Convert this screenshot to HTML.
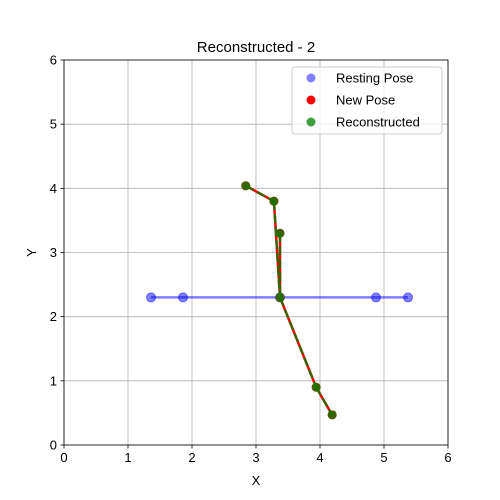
<!DOCTYPE html>
<html><head><meta charset="utf-8"><style>body{margin:0;background:#fff}svg{display:block;font-family:"Liberation Sans",sans-serif}</style></head>
<body>
<svg id="c" width="500" height="500"></svg>
<script>
const restX=[1.36,1.86,3.375,4.875,5.375];
const restY=[2.3,2.3,2.3,2.3,2.3];
const newX=[2.84,3.28,3.375,3.375,3.94,4.19];
const newY=[4.04,3.80,3.30,2.30,0.90,0.47];
const segs=[[0,1],[1,3],[2,3],[3,4],[4,5]];
const ticks=[0,1,2,3,4,5,6];
const NS="http://www.w3.org/2000/svg";
const svg=document.getElementById('c');
const L=64,R=448,T=60,B=445;
const sx=v=>L+v/6*(R-L), sy=v=>B-v/6*(B-T);
function el(t,a,p){const e=document.createElementNS(NS,t);for(const k in a)e.setAttribute(k,a[k]);(p||svg).appendChild(e);return e;}
const bg=el('rect',{x:L,y:T,width:R-L,height:B-T,fill:'#fff'});


ticks.forEach(t=>{
 const g1=el('line',{x1:sx(t),x2:sx(t),y1:T,y2:B,stroke:'#b0b0b0','stroke-width':0.8});
 
 
 const g2=el('line',{x1:L,x2:R,y1:sy(t),y2:sy(t),stroke:'#b0b0b0','stroke-width':0.8});
 
 
 el('line',{x1:sx(t),x2:sx(t),y1:B,y2:B+3.5,stroke:'#000','stroke-width':0.8});
 el('line',{x1:L-3.5,x2:L,y1:sy(t),y2:sy(t),stroke:'#000','stroke-width':0.8});
 const xt=el('text',{x:sx(t),y:B+17,'text-anchor':'middle','font-size':13});xt.textContent=t;
 
 
 const yt=el('text',{x:L-7,y:sy(t)+4.5,'text-anchor':'end','font-size':13});yt.textContent=t;
 
 
});
// resting
const rl=el('line',{x1:sx(Math.min(...restX)),x2:sx(Math.max(...restX)),y1:sy(restY[0]),y2:sy(restY[0]),stroke:'#0000ff','stroke-opacity':0.5,'stroke-width':2.5});


restX.forEach((x,i)=>{const c=el('circle',{cx:sx(x),cy:sy(restY[i]),r:4.5,fill:'#0000ff','fill-opacity':0.5,stroke:'#0000ff','stroke-opacity':0.5});
 
 });
segs.forEach(([a,b])=>{const l=el('line',{x1:sx(newX[a]),y1:sy(newY[a]),x2:sx(newX[b]),y2:sy(newY[b]),stroke:'#ff0000','stroke-width':2.5});
 
 });
newX.forEach((x,i)=>{const c=el('circle',{cx:sx(x),cy:sy(newY[i]),r:4.5,fill:'#ff0000'});
 
 });
segs.forEach(([a,b])=>{const l=el('line',{x1:sx(newX[a]),y1:sy(newY[a]),x2:sx(newX[b]),y2:sy(newY[b]),stroke:'#008000','stroke-opacity':0.75,'stroke-width':2.5,'stroke-dasharray':'9,4'});
 
 });
newX.forEach((x,i)=>{const c=el('circle',{cx:sx(x),cy:sy(newY[i]),r:4.5,fill:'#008000','fill-opacity':0.75});
 
 });
const fr=el('rect',{x:L,y:T,width:R-L,height:B-T,fill:'none',stroke:'#000','stroke-width':0.8});


const ti=el('text',{x:(L+R)/2,y:T-8,'text-anchor':'middle','font-size':15});ti.textContent='Reconstructed - 2';


const xl=el('text',{x:(L+R)/2,y:485,'text-anchor':'middle','font-size':13});xl.textContent='X';


const yl=el('text',{x:36,y:(T+B)/2,'text-anchor':'middle','font-size':13,transform:`rotate(-90 36 ${(T+B)/2})`});yl.textContent='Y';


// legend
const lg=el('g',{});


el('rect',{x:292,y:67,width:150,height:67,rx:3,fill:'#fff','fill-opacity':0.8,stroke:'#ccc'},lg);
[['Resting Pose','#0000ff',0.5],['New Pose','#ff0000',1],['Reconstructed','#008000',0.75]].forEach((d,i)=>{
 const y=78+i*22;
 const c=el('circle',{cx:311,cy:y,r:4.5,fill:d[1],'fill-opacity':d[2]},lg);
 
 
 const t=el('text',{x:336,y:y+4.5,'font-size':13},lg);t.textContent=d[0];
 
 
});
</script>
</body></html>
